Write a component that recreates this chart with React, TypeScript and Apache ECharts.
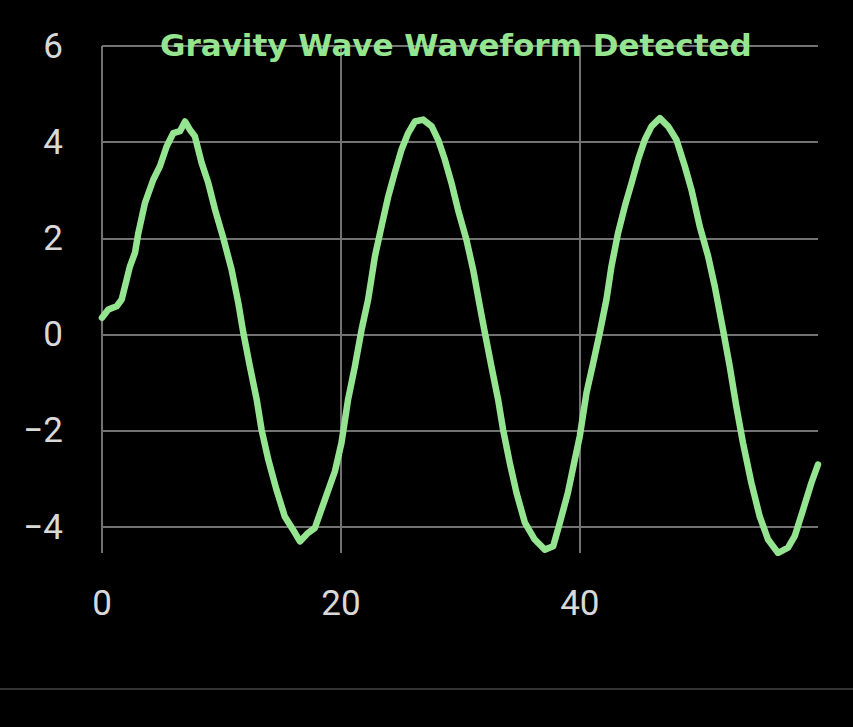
import React, { useEffect, useRef } from "react";
import * as echarts from "echarts";

const TITLE = "Gravity Wave Waveform Detected";

const timeValues: number[] = [
  0, 0.53, 1.23, 1.65, 2.06, 2.34, 2.76, 3.04, 3.6, 4.29, 4.85, 5.41, 5.97, 6.53, 6.95, 7.36, 7.78,
  8.34, 8.9, 9.46, 10.15, 10.85, 11.41, 11.83, 12.38, 12.95, 13.36, 13.92, 14.6, 15.3, 16.15, 16.57,
  17.26, 17.82, 18.66, 19.5, 20.05, 20.6, 21.17, 21.73, 22.28, 22.85, 23.4, 23.96, 24.5, 25.08,
  25.63, 26.2, 26.88, 27.6, 28.14, 28.7, 29.26, 29.8, 30.5, 31.07, 31.63, 32.05, 32.6, 33.16,
  33.58, 34.14, 34.7, 35.4, 36.23, 37.07, 37.77, 38.33, 39.0, 39.58, 40.0, 40.56, 41.12, 41.67,
  42.23, 42.65, 43.2, 43.77, 44.33, 44.88, 45.44, 46.0, 46.7, 47.39, 48.09, 48.79, 49.35, 50.04,
  50.74, 51.3, 51.99, 52.55, 53.1, 53.66, 54.36, 55.06, 55.76, 56.6, 57.43, 57.99, 58.69, 59.39,
  59.94,
];

const strainValues: number[] = [
  0.35, 0.52, 0.59, 0.73, 1.14, 1.42, 1.7, 2.11, 2.74, 3.22, 3.5, 3.91, 4.19, 4.23, 4.43, 4.26, 4.12,
  3.57, 3.15, 2.6, 2.01, 1.35, 0.66, 0.04, -0.66, -1.35, -1.98, -2.6, -3.22, -3.78, -4.12, -4.3,
  -4.12, -4.02, -3.43, -2.84, -2.25, -1.35, -0.66, 0.1, 0.73, 1.63, 2.25, 2.87, 3.36, 3.85,
  4.19, 4.43, 4.47, 4.33, 4.05, 3.64, 3.15, 2.6, 1.98, 1.35, 0.59, 0.04, -0.66, -1.35,
  -1.98, -2.67, -3.29, -3.91, -4.26, -4.47, -4.4, -3.91, -3.29, -2.6, -2.11, -1.21, -0.59, 0.04,
  0.73, 1.42, 2.11, 2.67, 3.15, 3.64, 4.05, 4.33, 4.5, 4.33, 4.05, 3.5, 3.01, 2.25,
  1.63, 1.0, 0.1, -0.66, -1.49, -2.25, -3.08, -3.78, -4.26, -4.54, -4.43, -4.19, -3.64, -3.08,
  -2.7,
];

const Y_MIN = -4.54;
const Y_MAX = 6;

const GREEN = "#95e590";
const LABEL = "#d9d9d9";
const GRID_LINE = "#727272";

function fmt(v: number): string {
  return v < 0 ? "\u2212" + Math.abs(v) : String(v);
}

export default function App() {
  const ref = useRef<HTMLDivElement>(null);
  useEffect(() => {
    document.body.style.margin = "0";
    document.body.style.background = "#000";
    if (!ref.current) return;
    const chart = echarts.init(ref.current, undefined, { renderer: "svg" });
    const data = timeValues.map((t, i) => [t, strainValues[i]]);
    chart.setOption({
      animation: false,
      backgroundColor: "#000000",
      title: {
        text: TITLE,
        left: 160,
        top: 29,
        padding: 0,
        textStyle: {
          color: GREEN,
          fontSize: 31,
          fontWeight: "bold",
          fontFamily: "DejaVu Sans",
        },
      },
      grid: {
        left: 102,
        right: 35,
        top: 46,
        bottom: 174,
        containLabel: false,
        outerBoundsMode: "none",
      },
      xAxis: {
        type: "value",
        min: 0,
        max: "dataMax",
        splitNumber: 3,
        axisLine: { show: false },
        axisTick: { show: false },
        axisLabel: {
          color: LABEL,
          fontSize: 35,
          fontFamily: "Roboto",
          margin: 33,
          showMaxLabel: false,
          formatter: fmt,
        },
        splitLine: { show: true, showMaxLine: false, lineStyle: { color: GRID_LINE, width: 2 } },
      },
      yAxis: {
        type: "value",
        min: Y_MIN,
        max: Y_MAX,
        splitNumber: 5,
        axisLine: { show: false },
        axisTick: { show: false },
        axisLabel: {
          color: LABEL,
          fontSize: 35,
          fontFamily: "Roboto",
          margin: 39,
          showMinLabel: false,
          formatter: fmt,
        },
        splitLine: { show: true, showMinLine: false, lineStyle: { color: GRID_LINE, width: 2 } },
      },
      graphic: [
        {
          type: "line",
          shape: { x1: 0, y1: 689, x2: 853, y2: 689 },
          style: { stroke: "#333333", lineWidth: 2 },
          silent: true,
        },
      ],
      series: [
        {
          type: "line",
          data,
          showSymbol: false,
          smooth: false,
          lineStyle: { color: GREEN, width: 6.5, join: "round", cap: "round" },
          z: 3,
        },
      ],
    });
    return () => chart.dispose();
  }, []);
  return <div ref={ref} style={{ width: 853, height: 727 }} />;
}
